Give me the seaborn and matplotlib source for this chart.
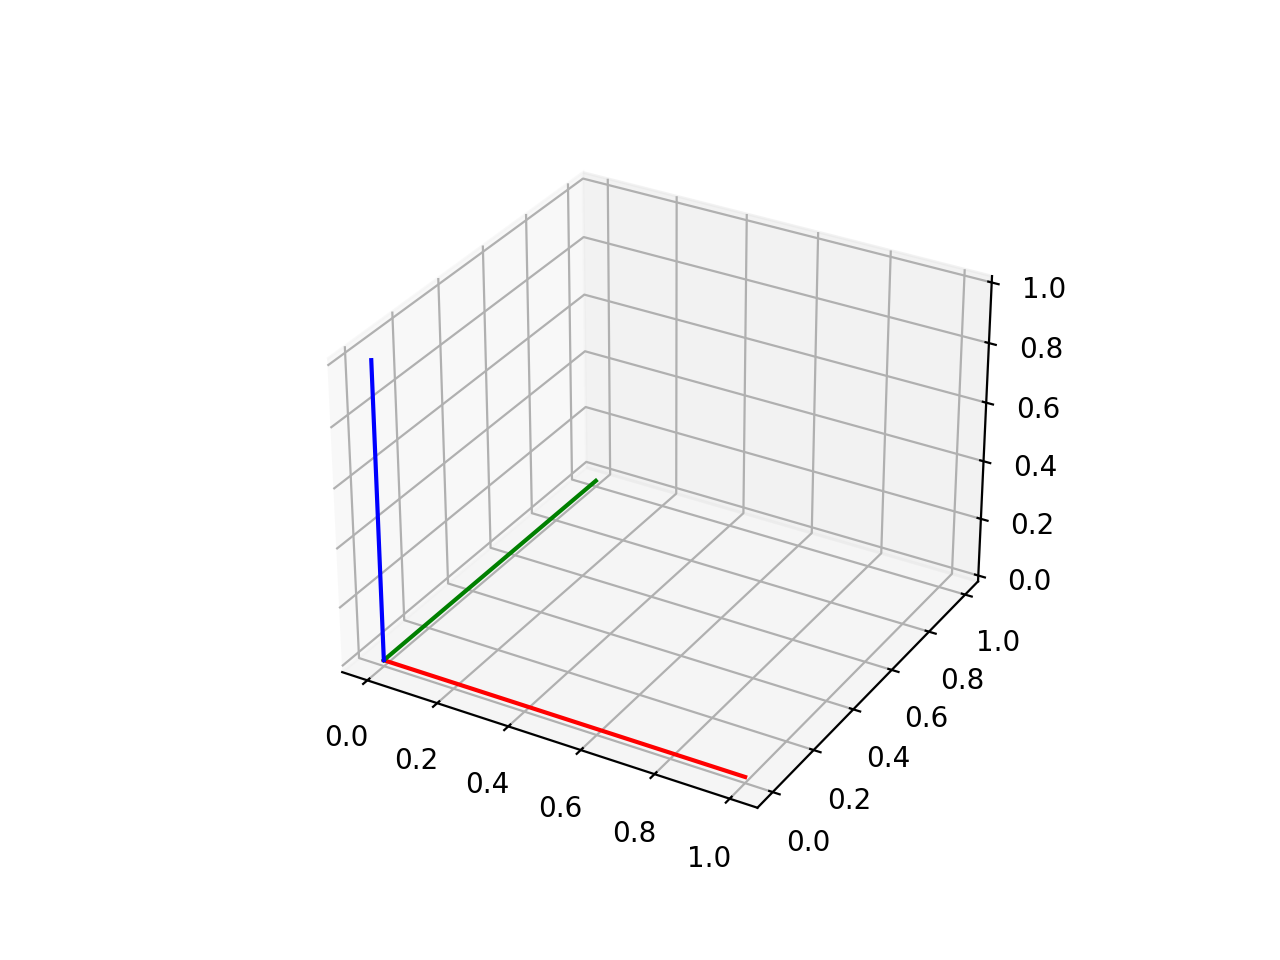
import seaborn as sns
import matplotlib
matplotlib.use("Agg")
import matplotlib.pyplot as plt

sns.reset_orig()

# the three unit axes, all starting at the origin
x_line = [[0, 1], [0, 0], [0, 0]]
y_line = [[0, 0], [0, 1], [0, 0]]
z_line = [[0, 0], [0, 0], [0, 1]]
colors = ["red", "green", "blue"]
ticks = [0.0, 0.2, 0.4, 0.6, 0.8, 1.0]

fig = plt.figure(figsize=(6.4, 4.8), dpi=200)
ax = fig.add_subplot(projection="3d")

for i in range(3):
    ax.plot(x_line[i], y_line[i], z_line[i], color=colors[i])

ax.set_xlim(-0.0729, 1.0729)
ax.set_ylim(-0.0729, 1.0729)
ax.set_zlim(-0.0208, 1.0208)
ax.set_xticks(ticks)
ax.set_yticks(ticks)
ax.set_zticks(ticks)

fig.savefig("out.png")
